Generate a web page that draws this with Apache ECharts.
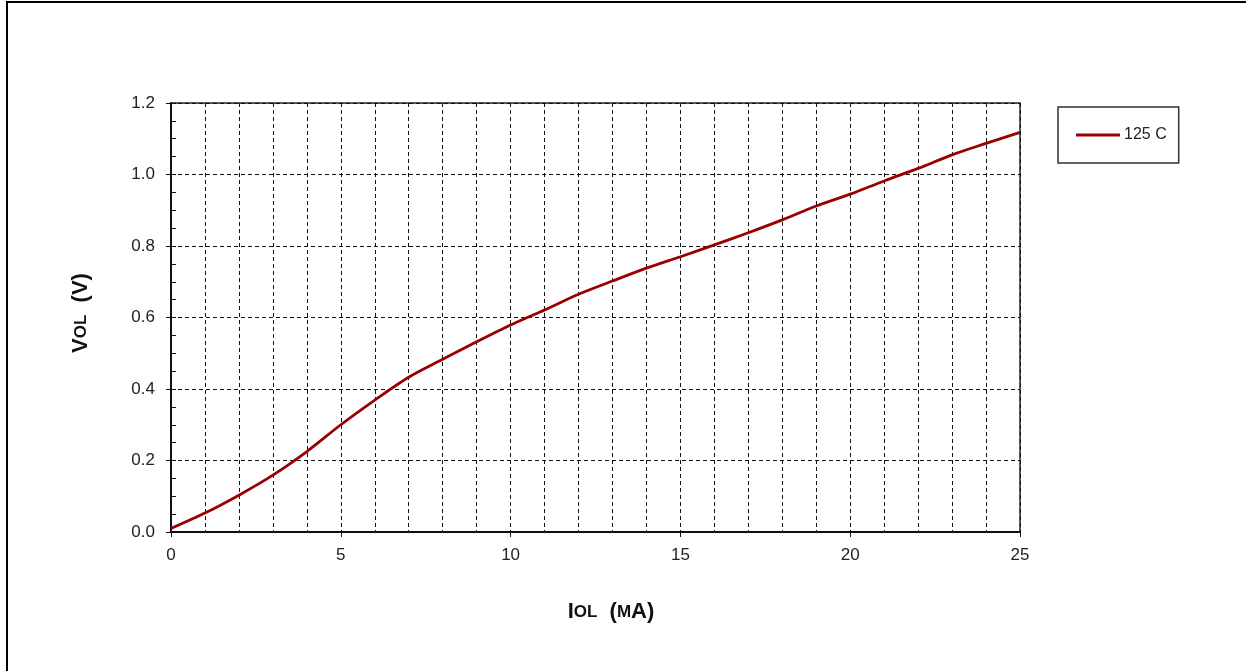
<!DOCTYPE html>
<html lang="en">
<head>
    <meta charset="UTF-8">
    <title>VOL vs IOL</title>
    <script type="text/javascript" src="https://cdn.jsdelivr.net/npm/echarts@6/dist/echarts.min.js"></script>
</head>
<style>
    html, body {
        margin: 0;
        padding: 0;
        background-color: #fff;
    }
    #chart{
        width: 1246px;
        height: 671px;
    }
</style>
<body>
<div id="chart"></div>
</body>
<script>
    // IOL (mA) sample points and VOL (V) readings at 125 C
    var iol = [0, 1, 2, 3, 4, 5, 6, 7, 8, 9, 10, 11, 12, 13, 14, 15, 16, 17, 18, 19, 20, 21, 22, 23, 24, 25]
    var vol125 = [0.01, 0.053, 0.103, 0.159, 0.225, 0.300, 0.369, 0.433, 0.483, 0.532, 0.579, 0.621, 0.665,
        0.702, 0.738, 0.770, 0.803, 0.837, 0.873, 0.912, 0.945, 0.982, 1.017, 1.055, 1.087, 1.118]
    var seriesName = '125 C'

    var pts = []
    for (var i = 0; i < iol.length; i++) {
        pts.push([iol[i], vol125[i]])
    }

    var myChart = echarts.init(document.getElementById('chart'));
    var dashed = {color: '#111', type: [4, 3], width: 1}
    var font = '"Liberation Sans", Arial, sans-serif'
    var titleRich = {
        a: {fontSize: 22, fontWeight: 'bold', fill: '#111', fontFamily: font},
        b: {fontSize: 17, fontWeight: 'bold', fill: '#111', fontFamily: font}
    }

    var option = {
        animation: false,
        backgroundColor: '#fff',
        textStyle: {fontFamily: font},
        graphic: [
            {
                type: 'rect',
                shape: {x: 7, y: 2, width: 1400, height: 900},
                style: {fill: 'none', stroke: '#000', lineWidth: 2}
            },
            {
                type: 'text',
                x: 611, y: 612,
                style: {
                    text: '{a|I}{b|OL}{a|  (}{b|M}{a|A)}',
                    rich: titleRich,
                    align: 'center',
                    verticalAlign: 'middle'
                }
            },
            {
                type: 'text',
                x: 81, y: 313,
                rotation: Math.PI / 2,
                style: {
                    text: '{a|V}{b|OL}{a|  (V)}',
                    rich: titleRich,
                    align: 'center',
                    verticalAlign: 'middle'
                }
            }
        ],
        grid: {
            left: 171, right: 226, top: 103, bottom: 139,
            show: true,
            borderColor: '#222',
            borderWidth: 1.5
        },
        legend: {
            left: 1058, top: 107,
            padding: [20, 12, 20, 18],
            borderColor: '#333',
            borderWidth: 1.5,
            icon: 'rect',
            itemWidth: 44,
            itemHeight: 3,
            itemGap: 4,
            textStyle: {fontSize: 16, color: '#222', fontFamily: font, padding: [0, 0, 0, -1]},
            data: [seriesName]
        },
        xAxis: {
            type: 'value',
            min: 0, max: 25, interval: 5,
            axisLine: {lineStyle: {color: '#111', width: 2}},
            axisTick: {show: true, length: 5, lineStyle: {color: '#111'}},
            minorTick: {show: false, splitNumber: 5},
            axisLabel: {fontSize: 17, color: '#222', margin: 15},
            splitLine: {show: true, lineStyle: dashed},
            minorSplitLine: {show: true, lineStyle: dashed}
        },
        yAxis: [
            {
                type: 'value',
                min: 0, max: 1.2, interval: 0.2,
                axisLine: {show: true, lineStyle: {color: '#111', width: 2}},
                axisTick: {show: true, length: 5, lineStyle: {color: '#111'}},
                axisLabel: {
                    fontSize: 17, color: '#222', margin: 16,
                    formatter: function (v) { return v.toFixed(1) }
                },
                splitLine: {show: true, lineStyle: dashed}
            },
            {
                type: 'value',
                position: 'left',
                min: 0, max: 1.2, interval: 0.2,
                axisLine: {show: false},
                axisTick: {show: true, inside: true, length: 5, lineStyle: {color: '#111'}},
                minorTick: {show: true, splitNumber: 4, length: 5, lineStyle: {color: '#111'}},
                axisLabel: {show: false},
                splitLine: {show: false}
            }
        ],
        series: [
            {
                name: seriesName,
                type: 'line',
                data: pts,
                smooth: 0.3,
                symbol: 'none',
                lineStyle: {color: '#990000', width: 2.8},
                itemStyle: {color: '#990000'}
            }
        ]
    };
    myChart.setOption(option);
</script>
</html>
